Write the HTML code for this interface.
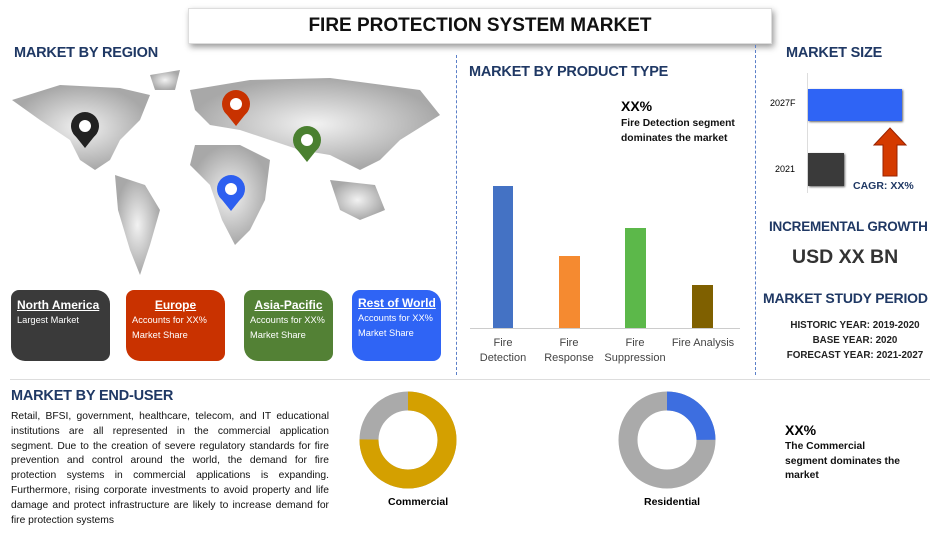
<!DOCTYPE html><html><head><style>
body{margin:0;width:949px;height:533px;background:#fff;position:relative;font-family:"Liberation Sans",sans-serif;overflow:hidden}
.a{position:absolute;white-space:nowrap}
.h{color:#1f3864;font-weight:bold;font-size:14.5px;letter-spacing:-0.2px}
.box{position:absolute;top:290px;height:71px;border-radius:8px 14px 8px 14px;color:#fff;font-size:9.3px;line-height:15px;padding:7px 6px;box-sizing:border-box;white-space:nowrap}
.box b{font-size:12px;text-decoration:underline;display:block;text-align:center;line-height:16px}
.lbl{position:absolute;font-size:11px;color:#444;text-align:center;width:70px;line-height:15px}
</style></head><body>
<div class="a" style="left:188px;top:8px;width:582px;height:34px;background:#fff;box-shadow:2px 3px 6px #999;border:1px solid #ddd;text-align:center;font-weight:bold;font-size:19px;line-height:34px;color:#111">FIRE PROTECTION SYSTEM MARKET</div>
<div class="a h" style="left:14px;top:45px">MARKET BY REGION</div>
<svg class="a" style="left:0;top:60px" width="450" height="225">
<defs><radialGradient id="g"><stop offset="0" stop-color="#f2f2f2"/><stop offset="1" stop-color="#a8a8a8"/></radialGradient></defs>
<g fill="url(#g)">
<path d="M12 40 L60 25 L120 28 L150 35 L140 60 L120 80 L110 100 L95 110 L80 100 L70 80 L40 60 Z"/>
<path d="M115 115 L145 125 L160 150 L150 185 L140 215 L130 190 L118 150 Z"/>
<path d="M190 30 L250 20 L330 18 L420 30 L440 55 L400 80 L380 100 L360 110 L330 95 L300 90 L270 80 L240 70 L210 65 L195 50 Z"/>
<path d="M195 85 L240 85 L270 100 L265 140 L250 170 L235 185 L222 160 L210 125 L190 105 Z"/>
<path d="M330 120 L375 125 L385 150 L360 160 L340 150 Z"/>
<path d="M150 15 L180 10 L175 30 L155 30 Z"/>
</g>
</svg>
<svg class="a" style="left:0;top:0" width="450" height="290">
<g><circle cx="85" cy="126" r="14" fill="#222"/><path d="M73 133 L85 148 L97 133Z" fill="#222"/><circle cx="85" cy="126" r="6" fill="#fff"/></g>
<g><circle cx="236" cy="104" r="14" fill="#c83200"/><path d="M224 111 L236 126 L248 111Z" fill="#c83200"/><circle cx="236" cy="104" r="6" fill="#fff"/></g>
<g><circle cx="307" cy="140" r="14" fill="#4a8030"/><path d="M295 147 L307 162 L319 147Z" fill="#4a8030"/><circle cx="307" cy="140" r="6" fill="#fff"/></g>
<g><circle cx="231" cy="189" r="14" fill="#2d5ff0"/><path d="M219 196 L231 211 L243 196Z" fill="#2d5ff0"/><circle cx="231" cy="189" r="6" fill="#fff"/></g>
</svg>
<div class="box" style="left:11px;width:99px;background:#3a3a3a;text-align:left"><b style="text-align:left">North America</b>Largest Market</div>
<div class="box" style="left:126px;width:99px;background:#c93200"><b>Europe</b>Accounts for XX%<br>Market Share</div>
<div class="box" style="left:244px;width:89px;background:#538135"><b>Asia-Pacific</b>Accounts for XX%<br>Market Share</div>
<div class="box" style="left:352px;width:89px;background:#2f64f5;padding-top:5px"><b>Rest of World</b>Accounts for XX%<br>Market Share</div>
<div class="a" style="left:456px;top:55px;height:320px;border-left:1.5px dashed #5b7fc8"></div>
<div class="a" style="left:755px;top:45px;height:330px;border-left:1.5px dashed #5b7fc8"></div>
<div class="a" style="left:10px;top:379px;width:920px;border-top:1px solid #ddd"></div>
<div class="a h" style="left:469px;top:64px">MARKET BY PRODUCT TYPE</div>
<div class="a" style="left:621px;top:98px;font-weight:bold;font-size:14px">XX%</div>
<div class="a" style="left:621px;top:116px;font-weight:bold;font-size:10.3px;line-height:15px;color:#111">Fire Detection segment<br>dominates the market</div>
<div class="a" style="left:470px;top:328px;width:270px;border-top:1px solid #ccc"></div>
<div class="a" style="left:493px;top:186px;width:20px;height:142px;background:#4472c4"></div>
<div class="a" style="left:559px;top:256px;width:21px;height:72px;background:#f58a30"></div>
<div class="a" style="left:625px;top:228px;width:21px;height:100px;background:#5cb84a"></div>
<div class="a" style="left:692px;top:285px;width:21px;height:43px;background:#7f6000"></div>
<div class="lbl" style="left:468px;top:336px">Fire<br>Detection</div>
<div class="lbl" style="left:534px;top:336px">Fire<br>Response</div>
<div class="lbl" style="left:600px;top:336px">Fire<br>Suppression</div>
<div class="lbl" style="left:667px;top:336px;width:72px">Fire Analysis</div>
<div class="a h" style="left:786px;top:45px">MARKET SIZE</div>
<div class="a" style="left:807px;top:73px;height:120px;border-left:1px solid #ddd"></div>
<div class="a" style="left:770px;top:98px;font-size:9px">2027F</div>
<div class="a" style="left:808px;top:89px;width:94px;height:32px;background:#2f64f5;box-shadow:1px 1px 2px #666"></div>
<div class="a" style="left:775px;top:164px;font-size:9px">2021</div>
<div class="a" style="left:808px;top:153px;width:36px;height:33px;background:#3a3a3a;box-shadow:1px 1px 2px #666"></div>
<svg class="a" style="left:872px;top:127px" width="36" height="50"><path d="M18 1 L34 18 L25 18 L25 49 L11 49 L11 18 L2 18Z" fill="#d43a00" stroke="#992200"/></svg>
<div class="a" style="left:853px;top:180px;font-weight:bold;font-size:10.5px;color:#1f3864">CAGR: XX%</div>
<div class="a h" style="left:769px;top:219px;font-size:13.5px">INCREMENTAL GROWTH</div>
<div class="a" style="left:792px;top:246px;font-weight:bold;font-size:19.5px;color:#333">USD XX BN</div>
<div class="a h" style="left:763px;top:290px;font-size:14px">MARKET STUDY PERIOD</div>
<div class="a" style="left:760px;top:318px;width:190px;text-align:center;font-weight:bold;font-size:9.8px;line-height:15px;color:#222">HISTORIC YEAR: 2019-2020<br>BASE YEAR: 2020<br>FORECAST YEAR: 2021-2027</div>
<div class="a h" style="left:11px;top:388px">MARKET BY END-USER</div>
<div class="a" style="left:11px;top:410px;width:318px;font-size:10.3px;line-height:14.8px;text-align:justify;color:#111;white-space:normal">Retail, BFSI, government, healthcare, telecom, and IT educational institutions are all represented in the commercial application segment. Due to the creation of severe regulatory standards for fire prevention and control around the world, the demand for fire protection systems in commercial applications is expanding. Furthermore, rising corporate investments to avoid property and life damage and protect infrastructure are likely to increase demand for fire protection systems</div>
<svg class="a" style="left:350px;top:385px" width="120" height="110">
<circle cx="58" cy="55" r="39" fill="none" stroke="#aaa" stroke-width="19"/>
<circle cx="58" cy="55" r="39" fill="none" stroke="#d4a000" stroke-width="19" stroke-dasharray="184 245" transform="rotate(-90 58 55)"/>
</svg>
<div class="a" style="left:388px;top:496px;font-weight:bold;font-size:10.5px">Commercial</div>
<svg class="a" style="left:610px;top:385px" width="120" height="110">
<circle cx="57" cy="55" r="39" fill="none" stroke="#aaa" stroke-width="19"/>
<circle cx="57" cy="55" r="39" fill="none" stroke="#3d6ee0" stroke-width="19" stroke-dasharray="61 245" transform="rotate(-90 57 55)"/>
</svg>
<div class="a" style="left:644px;top:496px;font-weight:bold;font-size:10.5px">Residential</div>
<div class="a" style="left:785px;top:422px;font-weight:bold;font-size:14px">XX%</div>
<div class="a" style="left:785px;top:440px;font-weight:bold;font-size:10.3px;line-height:14.5px;color:#111">The Commercial<br>segment dominates the<br>market</div>
</body></html>
